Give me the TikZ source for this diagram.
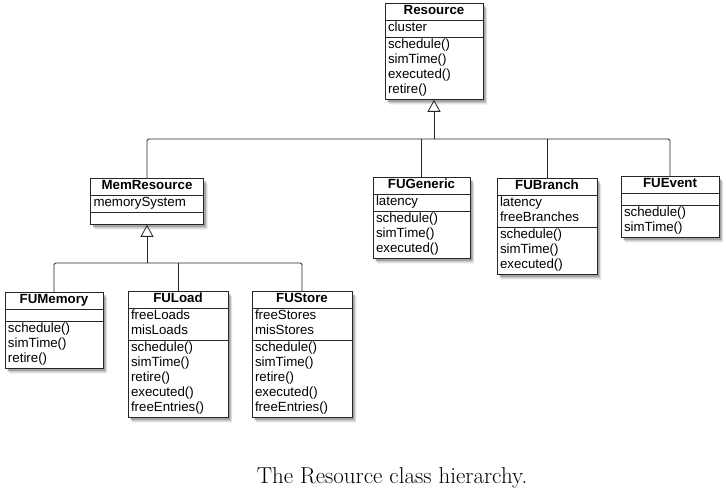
\documentclass[tikz,border=0pt]{standalone}
\usepackage{fontspec}
\newfontfamily\umlfont{Liberation Sans}
\usetikzlibrary{shapes.multipart,shadows,arrows.meta}

\newcommand{\members}[1]{\strut#1\strut}

\tikzset{
  umlclass/.style={rectangle split, rectangle split parts=3,
    rectangle split part align={center,left,left},
    rectangle split empty part height=10pt,
    draw=black!85, line width=0.8pt, fill=white, align=left,
    inner xsep=3pt, inner ysep=0.6pt, anchor=north,
    font=\umlfont\fontsize{13.3}{15}\selectfont,
    drop shadow={shadow xshift=4pt, shadow yshift=-5pt, fill=black!35, opacity=0.35},
    drop shadow={shadow xshift=2.5pt, shadow yshift=-3pt, fill=black!60, opacity=0.5}},
  inherit/.style={draw=black!85, line width=0.8pt,
    -{Triangle[open, width=13pt, length=12pt, line width=0.8pt]}},
  link/.style={draw=black!85, line width=0.8pt, rounded corners=1.5pt},
}

\begin{document}
\begin{tikzpicture}[x=1pt, y=-1pt]
    \useasboundingbox (0,0) rectangle (726,494);

    % top of the hierarchy
    \node[umlclass, minimum width=98pt] (Resource) at (434,3)
        {\members{\textbf{Resource}}
         \nodepart{second}\members{cluster}
         \nodepart{third}\members{schedule()\\ simTime()\\ executed()\\ retire()}};

    % second level
    \node[umlclass, minimum width=113pt] (MemResource) at (147,178)
        {\members{\textbf{MemResource}}
         \nodepart{second}\members{memorySystem}
         \nodepart{third}};
    \node[umlclass, minimum width=97pt] (FUGeneric) at (421.5,177)
        {\members{\textbf{FUGeneric}}
         \nodepart{second}\members{latency}
         \nodepart{third}\members{schedule()\\ simTime()\\ executed()}};
    \node[umlclass, minimum width=100pt] (FUBranch) at (547,178)
        {\members{\textbf{FUBranch}}
         \nodepart{second}\members{latency\\ freeBranches}
         \nodepart{third}\members{schedule()\\ simTime()\\ executed()}};
    \node[umlclass, minimum width=98pt] (FUEvent) at (670,176)
        {\members{\textbf{FUEvent}}
         \nodepart{second}
         \nodepart{third}\members{schedule()\\ simTime()}};

    % memory units
    \node[umlclass, minimum width=98pt] (FUMemory) at (54,292)
        {\members{\textbf{FUMemory}}
         \nodepart{second}
         \nodepart{third}\members{schedule()\\ simTime()\\ retire()}};
    \node[umlclass, minimum width=100pt] (FULoad) at (178,291)
        {\members{\textbf{FULoad}}
         \nodepart{second}\members{freeLoads\\ misLoads}
         \nodepart{third}\members{schedule()\\ simTime()\\ retire()\\ executed()\\ freeEntries()}};
    \node[umlclass, minimum width=100pt] (FUStore) at (302,291)
        {\members{\textbf{FUStore}}
         \nodepart{second}\members{freeStores\\ misStores}
         \nodepart{third}\members{schedule()\\ simTime()\\ retire()\\ executed()\\ freeEntries()}};

    % generalisation links
    \coordinate (bus) at (434,139);
    \coordinate (membus) at (147,263);
    \draw[link] (MemResource.north) |- (bus) -| (FUEvent.north);
    \draw[link] (FUGeneric.north) -- (FUGeneric.north |- bus);
    \draw[link] (FUBranch.north) -- (FUBranch.north |- bus);
    \draw[inherit] (bus) -- (Resource.south);
    \draw[link] (FUMemory.north) |- (membus) -| (FUStore.north);
    \draw[link] (FULoad.north) -- (FULoad.north |- membus);
    \draw[inherit] (membus) -- (MemResource.south);

    \node[font=\fontsize{23}{27}\selectfont] (caption) at (392,478)
        {The Resource class hierarchy.};
\end{tikzpicture}
\end{document}
